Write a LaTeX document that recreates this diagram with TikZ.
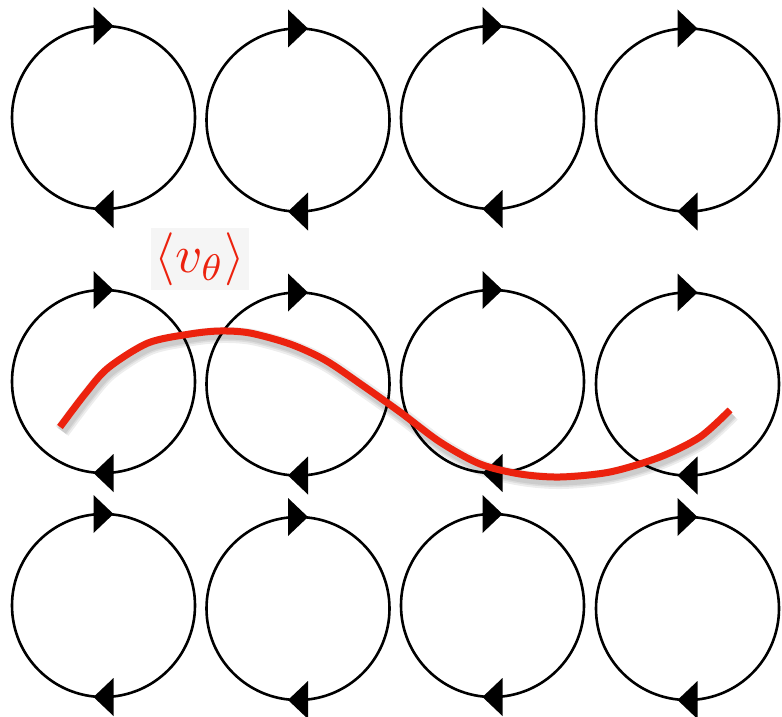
\documentclass[tikz,border=0pt]{standalone}
\usepackage{graphicx}
\usetikzlibrary{calc}
\definecolor{curvered}{RGB}{236,34,14}
\tikzset{
  vortex/.style={draw=black, line width=2.6pt, circle, minimum size=183pt, inner sep=0pt, outer sep=0pt},
  headfill/.style={fill=black, draw=none},
  redcurve/.style={draw=curvered, line width=7pt, line join=round},
  shadowline/.style={draw=black, line join=round, opacity=0.07},
  labelbox/.style={fill=black!4, text=curvered, inner sep=0pt, minimum width=98pt, minimum height=62pt}
}
\begin{document}
\begin{tikzpicture}[x=1pt,y=-1pt]
\useasboundingbox (0,0) rectangle (782,717);
\fill[white] (0,0) rectangle (782,717);
% vortices
\foreach \r/\ya/\yb in {1/117.5/120, 2/381.5/384, 3/605.5/608.5}{
  \node[vortex] (v\r1) at (103.5,\ya) {};
  \node[vortex] (v\r2) at (298,\yb) {};
  \node[vortex] (v\r3) at (492.5,\ya) {};
  \node[vortex] (v\r4) at (687.5,\yb) {};
}
% arrowheads
\foreach \r in {1,2,3}{
  \foreach \c in {1,2,3,4}{
    \fill[headfill] ($(v\r\c.north)+(10,0)$) -- ($(v\r\c.north)+(-10,-19)$) -- ($(v\r\c.north)+(-10,19)$) -- cycle;
    \fill[headfill] ($(v\r\c.south)+(-10,0)$) -- ($(v\r\c.south)+(10,-19)$) -- ($(v\r\c.south)+(10,19)$) -- cycle;
  }
}
% shadow of curve
\foreach \w in {16,12,9}{
  \draw[shadowline, line width=\w pt, shift={(2,4)}] plot[smooth, tension=0.5] coordinates {(60,427) (85,394) (108,368) (148,343) (190,334) (220,331) (250,333) (290,344) (325,360) (362,385) (400,412) (440,442) (480,464) (520,474) (560,477) (610,472) (660,457) (700,437) (730,410)};
}
% red curve
\draw[redcurve] plot[smooth, tension=0.5] coordinates {(60,427) (85,394) (108,368) (148,343) (190,334) (220,331) (250,333) (290,344) (325,360) (362,385) (400,412) (440,442) (480,464) (520,474) (560,477) (610,472) (660,457) (700,437) (730,410)};
% label
\node[labelbox] (lbl) at (200,259) {\scalebox{5.3}{$\langle v_\theta\rangle$}};
\end{tikzpicture}
\end{document}
